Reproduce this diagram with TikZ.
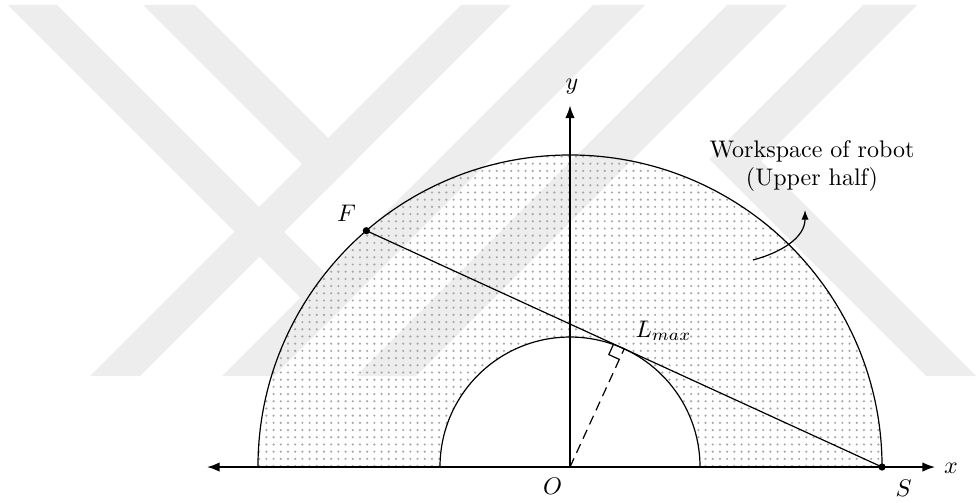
\documentclass[tikz,border=0pt]{standalone}
\usepackage{tikz}
\usetikzlibrary{arrows.meta, calc, patterns}
\definecolor{wmgray}{gray}{0.93}

\begin{document}
\begin{tikzpicture}[>={Latex[length=5.4pt,width=4pt]}, font=\normalsize,
  wmark/.style={fill=wmgray},
  ring/.style={line width=0.5pt},
  axisline/.style={line width=0.9pt}]
  \useasboundingbox (-8.348,-0.513) rectangle (5.975,6.840);
  % watermark in the background (pixel grid)
  \begin{scope}[shift={(-8.348,6.840)}, x=0.014646cm, y=-0.014646cm]
    \fill[wmark] (8,5) -- (57,5) -- (351,299) -- (326.5,323.5) -- cycle;
    \fill[wmark] (143,5) -- (195,5) -- (353,163) -- (327,189) -- cycle;
    \fill[wmark] (461,5) -- (511,5) -- (140,376) -- (90,376) -- cycle;
    \fill[wmark] (593,5) -- (645,5) -- (274,376) -- (222,376) -- cycle;
    \fill[wmark] (727,5) -- (787,5) -- (416,376) -- (356,376) -- cycle;
    \fill[wmark] (863,5) -- (917,5) -- (761,161) -- (976,376) -- (926,376) -- (709,159) -- cycle;
  \end{scope}

  \pgfmathsetmacro{\Rout}{4.57}
  \pgfmathsetmacro{\Rin}{1.904}
  \pgfmathsetmacro{\tang}{acos(\Rin/\Rout)}
  \coordinate (O) at (0,0);
  \coordinate (S) at (\Rout,0);
  \coordinate (T) at ({\tang}:\Rin);
  \coordinate (F) at ({2*\tang}:\Rout);
  \coordinate (xl) at (-5.32,0);
  \coordinate (xr) at (5.35,0);
  \coordinate (yt) at (0,5.30);

  % workspace (upper half ring)
  \fill[pattern=dots, pattern color=gray!70] (\Rout,0) arc (0:180:\Rout) -- (-\Rin,0) arc (180:0:\Rin) -- cycle;
  \draw[ring] (\Rout,0) arc (0:180:\Rout);
  \draw[ring] (\Rin,0) arc (0:180:\Rin);

  % axes
  \draw[axisline, <->] (xl) -- (xr);
  \draw[axisline, ->] (O) -- (yt);

  % tangent line and radius
  \draw[ring] (S) -- (F);
  \draw[ring, dash pattern=on 4pt off 2.5pt] (O) -- (T);
  \coordinate (ra) at ($(T)!0.17cm!(O)$);
  \coordinate (rb) at ($(T)!0.17cm!(F)$);
  \draw[ring] (ra) -- ($(ra)+(rb)-(T)$) -- (rb);
  \fill (F) circle (1.5pt);
  \fill (S) circle (1.5pt);

  % labels
  \node (xlab) at (5.58,-0.015) {$x$};
  \node (ylab) at (0.03,5.566) {$y$};
  \node (olab) at (-0.256,-0.286) {$O$};
  \node (slab) at (4.885,-0.315) {$S$};
  \node (flab) at (-3.273,3.713) {$F$};
  \node (llab) at (1.369,1.998) {$L_{max}$};
  \node[align=center] (wslab) at (3.544,4.408) {Workspace of robot\\(Upper half)};
  \coordinate (arrs) at (2.680,3.032);
  \coordinate (arrt) at (3.442,3.764);
  \draw[ring, -{Latex[length=4pt,width=3pt]}] (arrs) to[out=15,in=-90] (arrt);
\end{tikzpicture}
\end{document}
